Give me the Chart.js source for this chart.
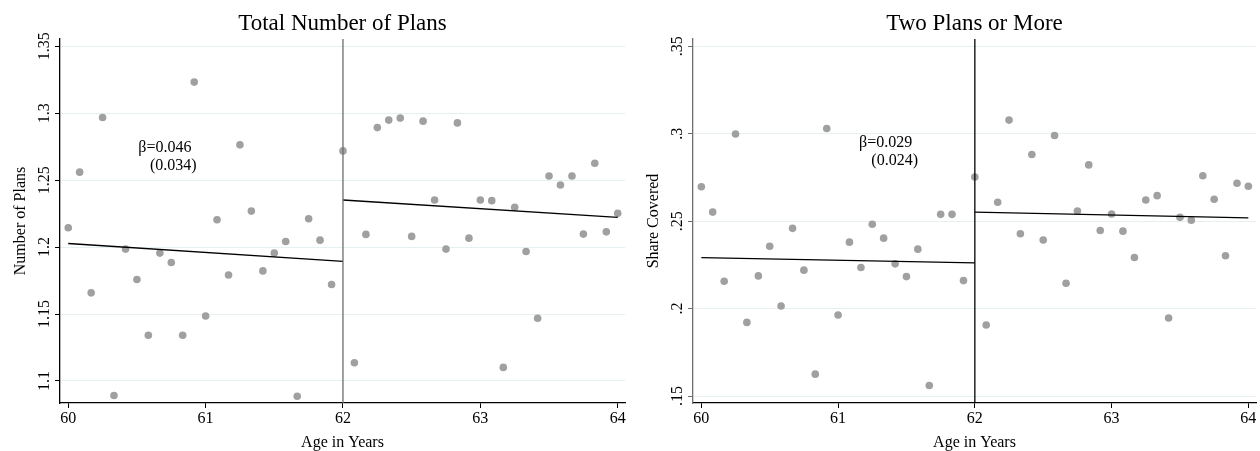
<!DOCTYPE html>
<html><head><meta charset="utf-8">
<script src="https://cdn.jsdelivr.net/npm/chart.js@4"></script>
<style>
html,body{margin:0;padding:0;background:#fff;}
#wrap{position:relative;width:1260px;height:451px;background:#fff;}
.panel{position:absolute;top:0;width:630px;height:451px;}
</style></head><body>
<div id="wrap">
<div class="panel" style="left:0"><canvas id="c1" width="630" height="451"></canvas></div>
<div class="panel" style="left:630px"><canvas id="c2" width="630" height="451"></canvas></div>
</div>
<script>
// ---- data ----
const ages = [60, 60.083, 60.167, 60.25, 60.333, 60.417, 60.5, 60.583, 60.667, 60.75, 60.833, 60.917,
  61, 61.083, 61.167, 61.25, 61.333, 61.417, 61.5, 61.583, 61.667, 61.75, 61.833, 61.917,
  62, 62.083, 62.167, 62.25, 62.333, 62.417, 62.5, 62.583, 62.667, 62.75, 62.833, 62.917,
  63, 63.083, 63.167, 63.25, 63.333, 63.417, 63.5, 63.583, 63.667, 63.75, 63.833, 63.917, 64];

const numPlans = [1.2145, 1.256, 1.1658, 1.2968, 1.0891, 1.1985, 1.1758, 1.1341, 1.1955, 1.1885, 1.1341, 1.3233,
  1.1485, 1.2204, 1.1792, 1.2764, 1.2269, 1.1822, 1.1955, 1.2042, 1.0886, 1.2212, 1.2052, 1.172,
  1.2719, 1.1136, 1.2095, 1.2893, 1.2949, 1.2964, 1.208, 1.2941, 1.2352, 1.1985, 1.2928, 1.2067,
  1.2352, 1.2347, 1.1101, 1.2297, 1.1967, 1.1468, 1.2531, 1.2464, 1.2531, 1.2097, 1.2627, 1.2114, 1.2252];

const shareCovered = [0.2697, 0.2552, 0.2156, 0.2999, 0.1921, 0.2187, 0.2357, 0.2015, 0.2459, 0.222, 0.1625, 0.303,
  0.1963, 0.238, 0.2235, 0.2482, 0.2403, 0.2256, 0.2183, 0.234, 0.156, 0.2539, 0.2539, 0.216,
  0.2753, 0.1906, 0.2608, 0.3078, 0.2428, 0.2881, 0.2392, 0.299, 0.2145, 0.2558, 0.2822, 0.2447,
  0.2541, 0.2443, 0.2292, 0.2621, 0.2646, 0.1946, 0.2522, 0.2506, 0.276, 0.2625, 0.2302, 0.2717, 0.27];

// fitted lines: [x0, x1] with [y0, y1]
const fitLeftX = [60, 62];
const fitRightX = [62, 64];
const numPlansFitPre = [1.2027, 1.1893];
const numPlansFitPost = [1.2352, 1.2222];
const shareFitPre = [0.2292, 0.2261];
const shareFitPost = [0.2552, 0.2519];

const cutoff = 62;
const xTicks = [60, 61, 62, 63, 64];
const numPlansTicks = [1.1, 1.15, 1.2, 1.25, 1.3, 1.35];
const numPlansTickLabels = ['1.1', '1.15', '1.2', '1.25', '1.3', '1.35'];
const shareTicks = [0.15, 0.2, 0.25, 0.3, 0.35];
const shareTickLabels = ['.15', '.2', '.25', '.3', '.35'];

const titles = ['Total Number of Plans', 'Two Plans or More'];
const yTitles = ['Number of Plans', 'Share Covered'];
const xTitle = 'Age in Years';
const betaText = [['\u03B2=0.046', '(0.034)'], ['\u03B2=0.029', '(0.024)']];

// ---- drawing ----
const FONT = '"Liberation Serif", "Times New Roman", serif';

function makeChart(id, opt) {
  const pts = ages.map((a, i) => ({x: a, y: opt.values[i]}));
  const textPlugin = {
    id: 'txt',
    afterDraw(chart) {
      const ctx = chart.ctx, ca = chart.chartArea;
      const xs = chart.scales.x, ys = chart.scales.y;
      ctx.save();
      ctx.fillStyle = '#000';
      // title
      ctx.font = '23px ' + FONT;
      ctx.textAlign = 'center'; ctx.textBaseline = 'alphabetic';
      ctx.fillText(opt.title, (ca.left + ca.right) / 2, 30);
      // x title
      ctx.font = '16px ' + FONT;
      ctx.fillText(xTitle, (ca.left + ca.right) / 2, 447);
      // y tick labels (rotated)
      ctx.font = '16px ' + FONT;
      opt.yTicks.forEach((v, i) => {
        const py = ys.getPixelForValue(v);
        ctx.save();
        ctx.translate(ca.left - 11, py);
        ctx.rotate(-Math.PI / 2);
        ctx.textAlign = 'center'; ctx.textBaseline = 'alphabetic';
        ctx.fillText(opt.yLabels[i], 0, 0);
        ctx.restore();
      });
      // y title
      ctx.save();
      ctx.font = '16px ' + FONT;
      ctx.translate(opt.yTitleX, (ca.top + ca.bottom) / 2);
      ctx.rotate(-Math.PI / 2);
      ctx.textAlign = 'center'; ctx.textBaseline = 'alphabetic';
      ctx.fillText(opt.yTitle, 0, 0);
      ctx.restore();
      // beta annotation
      ctx.font = '16px ' + FONT;
      ctx.textAlign = 'left'; ctx.textBaseline = 'middle';
      ctx.fillText(opt.beta[0], xs.getPixelForValue(opt.betaPos[0]), ys.getPixelForValue(opt.betaPos[1]));
      ctx.fillText(opt.beta[1], xs.getPixelForValue(opt.betaPos[2]), ys.getPixelForValue(opt.betaPos[3]));
      ctx.restore();
    }
  };
  return new Chart(document.getElementById(id), {
    type: 'scatter',
    data: {
      datasets: [
        {type: 'line', data: [{x: cutoff, y: opt.ymin}, {x: cutoff, y: opt.ymax}], borderColor: opt.vlineColor, borderWidth: 1.3, pointRadius: 0, fill: false, order: 1},
        {type: 'line', data: fitLeftX.map((x, i) => ({x, y: opt.fitPre[i]})), borderColor: '#000', borderWidth: 1.3, pointRadius: 0, fill: false, order: 2},
        {type: 'line', data: fitRightX.map((x, i) => ({x, y: opt.fitPost[i]})), borderColor: '#000', borderWidth: 1.3, pointRadius: 0, fill: false, order: 3},
        {data: pts, backgroundColor: '#a0a0a0', borderWidth: 0, pointRadius: 3.8, order: 4}
      ]
    },
    options: {
      responsive: false, animation: false, devicePixelRatio: 1,
      layout: {padding: {top: 39, right: opt.padRight, left: 0, bottom: 0}},
      plugins: {legend: {display: false}, tooltip: {enabled: false}, title: {display: false}},
      scales: {
        x: {
          type: 'linear', min: opt.xmin, max: opt.xmax,
          afterBuildTicks: s => { s.ticks = xTicks.map(v => ({value: v})); },
          afterFit: s => { s.height = 48; },
          grid: {color: 'rgba(0,0,0,0)', tickColor: '#000', tickLength: 5, drawOnChartArea: false},
          border: {color: '#000', width: 1.3},
          ticks: {font: {family: FONT, size: 16}, color: '#000', padding: 1, maxRotation: 0, autoSkip: false,
                  callback: v => String(v)}
        },
        y: {
          type: 'linear', min: opt.ymin, max: opt.ymax,
          afterBuildTicks: s => { s.ticks = opt.yTicks.map(v => ({value: v})); },
          afterFit: s => { s.width = opt.yWidth; },
          grid: {color: '#e6eff2', tickColor: opt.yAxisColor, tickLength: 5, lineWidth: 1},
          border: {color: opt.yAxisColor, width: 1.3},
          ticks: {display: false}
        }
      }
    },
    plugins: [textPlugin]
  });
}

makeChart('c1', {
  values: numPlans, fitPre: numPlansFitPre, fitPost: numPlansFitPost,
  ymin: 1.0835, ymax: 1.3555, xmin: 59.94, xmax: 64.053,
  yTicks: numPlansTicks, yLabels: numPlansTickLabels,
  title: titles[0], yTitle: yTitles[0], yTitleX: 25, beta: betaText[0],
  betaPos: [60.51, 1.2744, 60.595, 1.2609],
  vlineColor: '#6e6e6e', yAxisColor: '#000', padRight: 5, yWidth: 60
});
makeChart('c2', {
  values: shareCovered, fitPre: shareFitPre, fitPost: shareFitPost,
  ymin: 0.146, ymax: 0.3542, xmin: 59.939, xmax: 64.056,
  yTicks: shareTicks, yLabels: shareTickLabels,
  title: titles[1], yTitle: yTitles[1], yTitleX: 28, beta: betaText[1],
  betaPos: [61.153, 0.2946, 61.243, 0.2845],
  vlineColor: '#000', yAxisColor: '#6e6e6e', padRight: 1, yWidth: 63
});
</script>
</body></html>
